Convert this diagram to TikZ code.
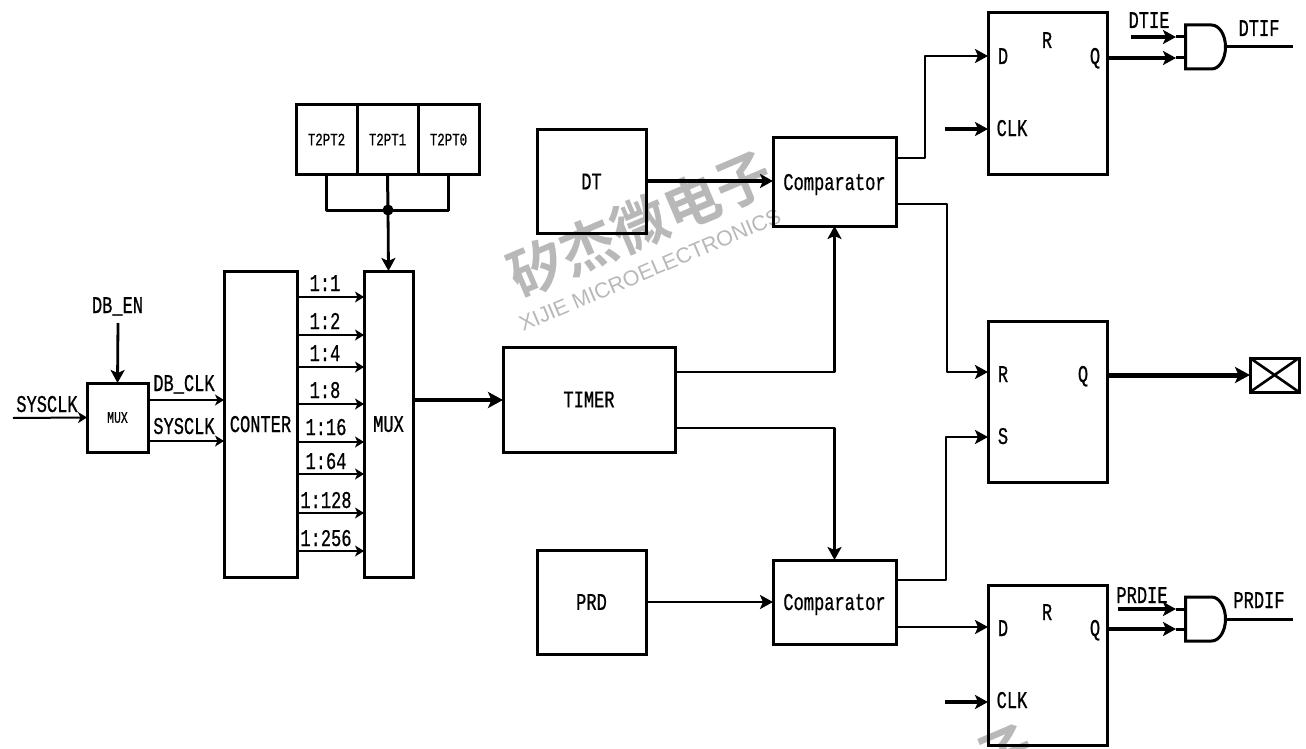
\documentclass[tikz,border=0pt]{standalone}
\usepackage{fontspec}
\usetikzlibrary{arrows.meta}
\setmainfont{Liberation Sans}
\newfontfamily\labfont[FakeStretch=0.71,FakeBold=0.7]{Liberation Mono}
\newfontfamily\wmcjk{Noto Sans CJK SC Bold}
\newfontfamily\wmlat{Liberation Sans}
\definecolor{wm}{gray}{0.72}
\tikzset{
  big/.style={font=\labfont\fontsize{24}{26}\selectfont},
  mid/.style={font=\labfont\fontsize{17.5}{19}\selectfont},
  small/.style={font=\labfont\fontsize{16}{18}\selectfont},
  block/.style={draw,line width=3pt,inner sep=0pt,outer sep=0pt,text depth=0pt,big,line join=miter},
  lbl/.style={inner sep=0pt,anchor=base,big},
  hairline/.style={line width=2pt,-{Stealth[length=9pt,width=11pt,inset=2.5pt]}},
  wire/.style={line width=2.8pt,line join=round,-{Stealth[length=13pt,width=14pt,inset=3pt]}},
  plain/.style={line width=3pt,line join=round},
  heavy/.style={line width=4.6pt,-{Stealth[length=15pt,width=16pt,inset=3.5pt]}},
  gatebody/.style={line width=3pt,line join=miter}
}
\newcommand{\blk}[7][]{%
  \pgfmathsetmacro{\bw}{#5-#3}\pgfmathsetmacro{\bh}{#6-#4}%
  \pgfmathsetmacro{\bx}{(#5+#3)/2}\pgfmathsetmacro{\by}{(#6+#4)/2}%
  \node[block,#1,minimum width=\bw pt,minimum height=\bh pt] (#2) at (\bx,\by) {#7};%
}
\begin{document}
\begin{tikzpicture}[x=1pt,y=-1pt]
\useasboundingbox (0,0) rectangle (1306,749);
% watermark
\begin{scope}
\clip (0,0) rectangle (1306,749);
\node[rotate=23,text=wm,inner sep=0pt,font=\wmcjk\fontsize{56}{60}\selectfont] (wmcn) at (640,224) {矽杰微电子};
\node[rotate=23,text=wm,inner sep=0pt,font=\wmlat\fontsize{21.5}{24}\selectfont] (wmen) at (650,270) {XIJIE MICROELECTRONICS};
\node[rotate=23,text=wm,inner sep=0pt,font=\wmcjk\fontsize{56}{60}\selectfont] (wmcn2) at (1005,754) {子};
\end{scope}
% blocks
\blk[mid]{t2}{296}{105}{357}{174}{T2PT2}
\blk[mid]{t1}{357}{105}{418}{174}{T2PT1}
\blk[mid]{t0}{418}{105}{479}{174}{T2PT0}
\blk{conter}{224}{271}{297}{577}{CONTER}
\blk{mux}{364}{271}{413}{577}{MUX}
\blk[small]{smux}{87}{383}{148}{452}{MUX}
\blk{timer}{503}{347}{675}{452}{TIMER}
\blk{dt}{537}{130}{646}{233}{DT}
\blk{prd}{537}{550}{646}{654}{PRD}
\blk{cmpa}{773}{138}{896}{226}{Comparator}
\blk{cmpb}{773}{560}{896}{644}{Comparator}
\blk{ffa}{988}{13}{1107}{174}{}
\blk{ffb}{988}{321}{1107}{482}{}
\blk{ffc}{988}{585}{1107}{745}{}
% X box
\blk{xbox}{1250}{358}{1299}{392}{}
\draw[line width=2.6pt] (xbox.north west) -- (xbox.south east) (xbox.north east) -- (xbox.south west);
% selector wiring
\node[circle,fill,inner sep=0pt,minimum size=11pt] (dot) at (388,210) {};
\draw[plain] (t2.south) |- (dot.center) -| (t0.south);
\draw[plain] (t1.south) -- (dot.center);
\draw[wire] (dot.center) -- (mux.north);
% left inputs
\coordinate (sysin) at (13,418);
\coordinate (enin) at (118,323);
\draw[hairline] (sysin) -- (smux.west);
\draw[wire] (enin) -- (smux.north);
\draw[hairline] (smux.east |- 0,400) -- (conter.west |- 0,400);
\draw[hairline] (smux.east |- 0,441) -- (conter.west |- 0,441);
\foreach \yy in {297,335,367,404,442,474,513,551}
  \draw[hairline] (conter.east |- 0,\yy) -- (mux.west |- 0,\yy);
\draw[heavy] (mux.east |- 0,400) -- (timer.west |- 0,400);
% comparators
\draw[wire,line width=3.6pt] (dt.east |- 0,181) -- (cmpa.west |- 0,181);
\draw[wire] (prd.east |- 0,602) -- (cmpb.west |- 0,602);
\draw[wire] (timer.east |- 0,372) -| (cmpa.south);
\draw[wire] (timer.east |- 0,428) -| (cmpb.north);
% comparator outputs
\draw[wire] (cmpa.east |- 0,158) -- (925,158) |- (ffa.west |- 0,56);
\draw[wire] (cmpa.east |- 0,204) -- (947,204) |- (ffb.west |- 0,372);
\draw[wire] (cmpb.east |- 0,580) -- (946,580) |- (ffb.west |- 0,437);
\draw[wire] (cmpb.east |- 0,627) -- (ffc.west |- 0,627);
% clocks
\coordinate (clka) at (945,129);
\coordinate (clkb) at (945,702);
\draw[wire,line width=3.6pt] (clka) -- (ffa.west |- clka);
\draw[wire,line width=3.6pt] (clkb) -- (ffc.west |- clkb);
% Q output
\draw[heavy,line width=5pt] (ffb.east |- 0,375) -- (xbox.west |- 0,375);
% gates
\node[inner sep=0pt,outer sep=0pt,minimum width=40pt,minimum height=44pt] (gatea) at (1205.5,47) {};
\node[inner sep=0pt,outer sep=0pt,minimum width=40pt,minimum height=44pt] (gateb) at (1205.5,619) {};
\foreach \g in {gatea,gateb}
  \draw[gatebody] (\g.north west) -- ++(26pt,0pt) arc[start angle=90,end angle=-90,x radius=14pt,y radius=22pt] -- (\g.south west) -- cycle;
\coordinate (iea) at (1131,37);
\coordinate (ieb) at (1118,609);
\coordinate (outa) at (1293,47);
\coordinate (outb) at (1293,619);
\draw[wire,line width=3.6pt] (iea) -- (1176,37);
\draw[wire,line width=3.6pt] (ffa.east |- 0,58) ++(2,0) -- (1176,58);
\draw[wire,line width=3.6pt] (ieb) -- (1176,609);
\draw[wire,line width=3.6pt] (ffc.east |- 0,629) ++(2,0) -- (1176,629);
\draw[plain] (1176,37) -- (gatea.west |- 0,37);
\draw[plain] (1176,58) -- (gatea.west |- 0,58);
\draw[plain] (1176,609) -- (gateb.west |- 0,609);
\draw[plain] (1176,629) -- (gateb.west |- 0,629);
\draw[plain] (gatea.east) -- (outa);
\draw[plain] (gateb.east) -- (outb);
% labels
\node[lbl] (l1) at (47,412) {SYSCLK};
\node[lbl] (l2) at (117.5,313) {DB\_EN};
\node[lbl] (l3) at (184,391) {DB\_CLK};
\node[lbl] (l4) at (184,434) {SYSCLK};
\node[lbl] (r1) at (325,291) {1:1};
\node[lbl] (r2) at (325,329) {1:2};
\node[lbl] (r3) at (325,361) {1:4};
\node[lbl] (r4) at (325,398) {1:8};
\node[lbl] (r5) at (326,435) {1:16};
\node[lbl] (r6) at (326,469) {1:64};
\node[lbl] (r7) at (326,508) {1:128};
\node[lbl] (r8) at (326,546) {1:256};
\node[lbl] (a1) at (1003,64) {D};
\node[lbl] (a2) at (1047,48) {R};
\node[lbl] (a3) at (1095,64) {Q};
\node[lbl] (a4) at (1012,136) {CLK};
\node[lbl] (a5) at (1149,28) {DTIE};
\node[lbl] (a6) at (1259,36) {DTIF};
\node[lbl] (b1) at (1003,382) {R};
\node[lbl] (b2) at (1083,382) {Q};
\node[lbl] (b3) at (1003,444) {S};
\node[lbl] (c1) at (1003,636) {D};
\node[lbl] (c2) at (1047,620) {R};
\node[lbl] (c3) at (1095,636) {Q};
\node[lbl] (c4) at (1012,708) {CLK};
\node[lbl] (c5) at (1142,603) {PRDIE};
\node[lbl] (c6) at (1259,608) {PRDIF};
\end{tikzpicture}
\end{document}
